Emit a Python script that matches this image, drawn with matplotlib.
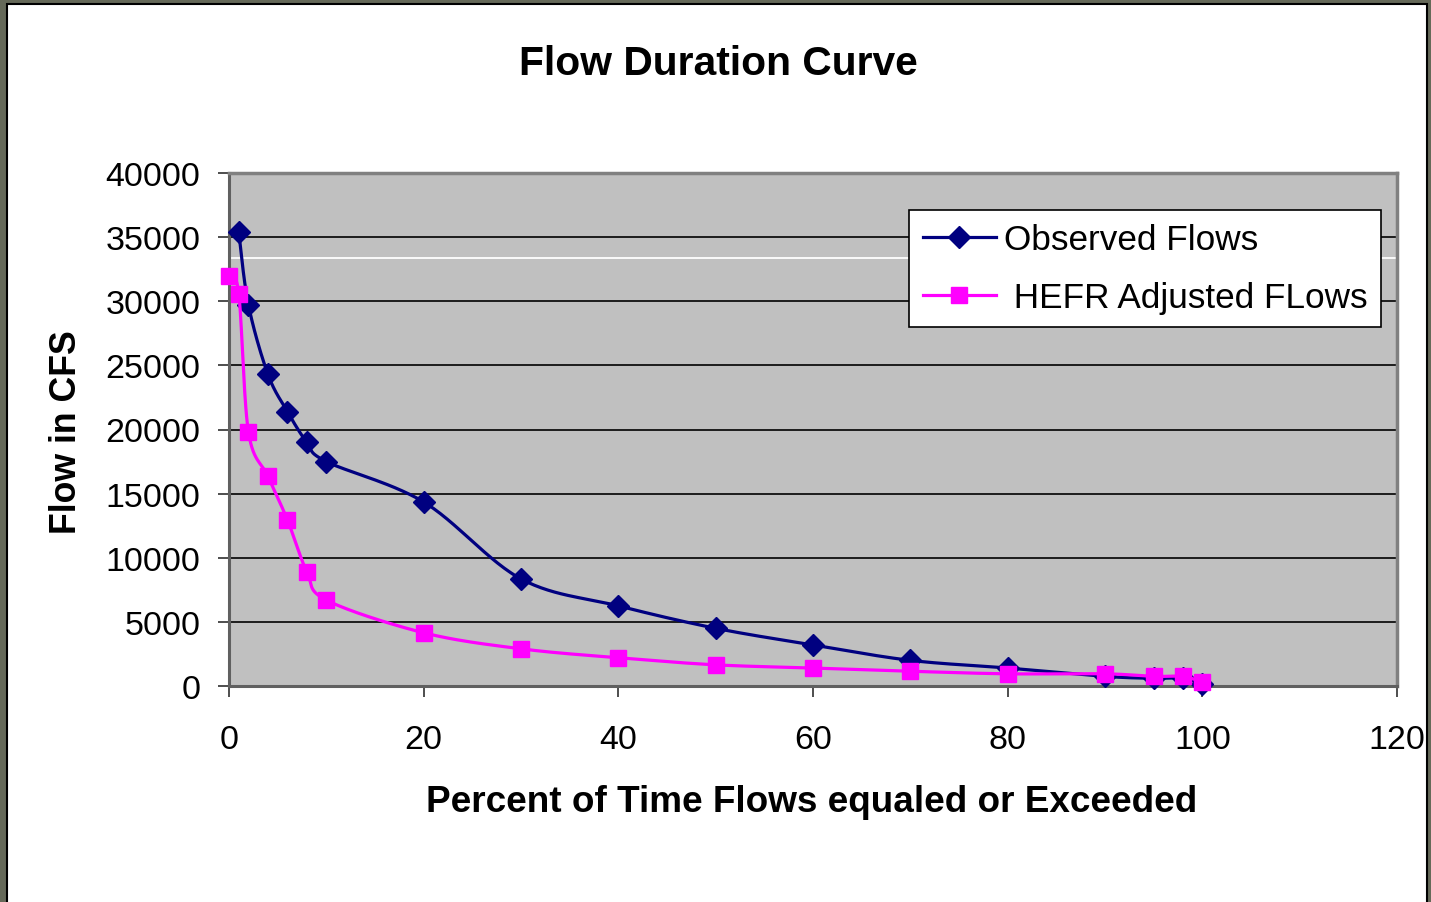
import numpy as np
import matplotlib
matplotlib.use("Agg")
import matplotlib.pyplot as plt
from matplotlib.patches import Rectangle
from matplotlib.lines import Line2D

plt.rcParams['font.family'] = ['Liberation Sans', 'DejaVu Sans']

# ---- data ----
obs_x = [1, 2, 4, 6, 8, 10, 20, 30, 40, 50, 60, 70, 80, 90, 95, 98, 100]
obs_y = [35400, 29700, 24300, 21400, 19000, 17500, 14350, 8350, 6250, 4500,
         3200, 2000, 1400, 750, 600, 600, 150]
hefr_x = [0, 1, 2, 4, 6, 8, 10, 20, 30, 40, 50, 60, 70, 80, 90, 95, 98, 100]
hefr_y = [32000, 30600, 19800, 16350, 12950, 8900, 6700, 4150, 2900, 2200,
          1650, 1400, 1150, 950, 950, 750, 750, 300]
x_ticks = [0, 20, 40, 60, 80, 100, 120]
y_ticks = [0, 5000, 10000, 15000, 20000, 25000, 30000, 35000, 40000]
series_names = ["Observed Flows", " HEFR Adjusted FLows"]
title = "Flow Duration Curve"
xlabel = "Percent of Time Flows equaled or Exceeded"
ylabel = "Flow in CFS"


def smooth(xs, ys, n=30):
    """Excel-like smoothed line (Catmull-Rom Bezier through the points)."""
    P = np.column_stack([xs, ys]).astype(float)
    pts = []
    m = len(P)
    t = np.linspace(0, 1, n)[:, None]
    for i in range(m - 1):
        p0 = P[i - 1] if i > 0 else P[i]
        p1, p2 = P[i], P[i + 1]
        p3 = P[i + 2] if i + 2 < m else P[i + 1]
        c1 = p1 + (p2 - p0) / 6.0
        c2 = p2 - (p3 - p1) / 6.0
        seg = ((1 - t) ** 3) * p1 + 3 * ((1 - t) ** 2) * t * c1 + 3 * (1 - t) * t ** 2 * c2 + t ** 3 * p2
        pts.append(seg if i == 0 else seg[1:])
    S = np.vstack(pts)
    return S[:, 0], S[:, 1]


W, H = 1431, 903
fig = plt.figure(figsize=(W / 100, H / 100), dpi=100)
fig.patch.set_facecolor('#656959')
fig.add_artist(Rectangle((7 / W, -0.01), (1427 - 7) / W, 1 - 5 / H + 0.01,
                         transform=fig.transFigure, facecolor='white',
                         edgecolor='black', linewidth=1.5, zorder=0))

ax = fig.add_axes([229 / W, 1 - 687 / H, (1397 - 229) / W, (687 - 174) / H])
ax.set_facecolor('#C0C0C0')
ax.set_xlim(0, 120)
ax.set_ylim(0, 40000)
ax.set_xticks(x_ticks)
ax.set_yticks(y_ticks)
ax.set_yticklabels([str(v) for v in y_ticks])
ax.tick_params(axis='both', direction='out', length=8, width=1.3, color='#404040',
               labelsize=24.5, labelcolor='black')
ax.tick_params(axis='y', pad=12.5)
ax.tick_params(axis='x', pad=19.5)
for v in y_ticks[1:-1]:
    ax.axhline(v, color='black', linewidth=1.2, zorder=1)
ax.axhline(33400, color='white', linewidth=1.3, zorder=1)
for s in ['top', 'right']:
    ax.spines[s].set_color('#808080')
    ax.spines[s].set_linewidth(2.5)
for s in ['left', 'bottom']:
    ax.spines[s].set_color('#606060')
    ax.spines[s].set_linewidth(2.2)

sx, sy = smooth(obs_x, obs_y)
ax.plot(sx, sy, color='#000080', linewidth=2.3, zorder=3, clip_on=False)
ax.plot(obs_x, obs_y, linestyle='none', marker='D', markersize=11.5,
        color='#000080', zorder=4, clip_on=False)
hx, hy = smooth(hefr_x, hefr_y)
ax.plot(hx, hy, color='#FF00FF', linewidth=2.3, zorder=5, clip_on=False)
ax.plot(hefr_x, hefr_y, linestyle='none', marker='s', markersize=11.5,
        color='#FF00FF', zorder=6, clip_on=False)

handles = [Line2D([], [], color='#000080', linewidth=2.3, marker='D', markersize=11.5),
           Line2D([], [], color='#FF00FF', linewidth=2.3, marker='s', markersize=11.5)]
leg = ax.legend(handles, series_names, loc='upper right',
                bbox_to_anchor=((1381 - 229) / 1168, (687 - 211) / 513),
                borderaxespad=0, fontsize=25.3, frameon=True, fancybox=False,
                framealpha=1, edgecolor='black', handlelength=2.1,
                handletextpad=0.22, labelspacing=0.7, borderpad=0.38)
leg.get_frame().set_linewidth(1.2)

fig.text(718 / W, 1 - 64 / H, title, ha='center', va='center',
         fontsize=29.3, fontweight='bold')
fig.text(812 / W, 1 - 803 / H, xlabel, ha='center', va='center',
         fontsize=26.6, fontweight='bold')
fig.text(66 / W, 1 - 432 / H, ylabel, ha='center', va='center',
         fontsize=25.7, fontweight='bold', rotation=90)

fig.savefig('out.png', dpi=100, facecolor=fig.get_facecolor())
